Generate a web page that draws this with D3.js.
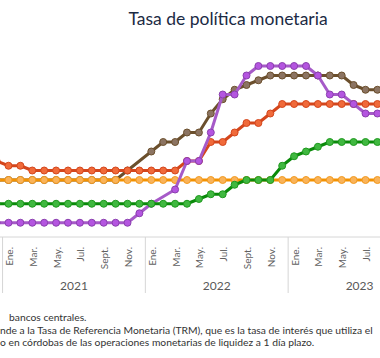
<!DOCTYPE html>
<html>
<head>
<meta charset="utf-8">
<script src="https://cdnjs.cloudflare.com/ajax/libs/d3/7.8.5/d3.min.js"></script>
<style>
  body { margin:0; background:#fff; }
  svg { display:block; font-family: Lato, "Open Sans", sans-serif; }
</style>
</head>
<body>
<svg id="chart" width="380" height="358"></svg>
<script>
// months: dic 2020 .. ago 2023
var months = d3.timeMonth.range(new Date(2020, 11, 1), new Date(2023, 8, 1));
var monthNames = ["Ene.","Feb.","Mar.","Abr.","May.","Jun.","Jul.","Ago.","Sept.","Oct.","Nov.","Dic."];
var years = [2021, 2022, 2023];

// tasas (%), una por mes; null = sin marcador
var honduras  = [3,3,3,3,3,3,3,3,3,3,3,3,3, 3,3,3,3,3,3,3,3,3,3,3,3, 3,3,3,3,3,3,3,3];
var nicaragua = [4,3.75,3.75,3.5,3.5,3.5,3.5,3.5,3.5,3.5,3.5,3.5,3.5, 3.5,3.5,3.5,4,4,5,5,5.5,6,6,6.5,7, 7,7,7,7,7,7,7,7];
var guatemala = [1.75,1.75,1.75,1.75,1.75,1.75,1.75,1.75,1.75,1.75,1.75,1.75,1.75, 1.75,1.75,1.75,1.75,2,2.25,2.25,2.75,3,3,3,3.75, 4.25,4.5,4.75,5,5,5,5,5];
var costaRica = [0.75,0.75,0.75,0.75,0.75,0.75,0.75,0.75,0.75,0.75,0.75,0.75,1.25, 1.75,null,2.5,4,4,5.5,7.5,7.5,8.5,9,9,9, 9,9,8.5,7.5,7.5,7,6.5,6.5];
var repDom    = [3,3,3,3,3,3,3,3,3,3,3,3.5,null, 4.5,5,5,5.5,5.5,6.5,7.25,7.75,8,8.25,8.5,8.5, 8.5,8.5,8.5,8.5,8.5,8,7.75,7.75];

// drawing order, bottom to top
var series = [
    {name:"Rep. Dominicana", values:repDom,    line:"#6b4f2c", fill:"#8c7462", stroke:"#6b4f2c"},
    {name:"Nicaragua",       values:nicaragua, line:"#d4461c", fill:"#f06a3a", stroke:"#d4461c"},
    {name:"Honduras",        values:honduras,  line:"#f39200", fill:"#f9b35a", stroke:"#f39a1e"},
    {name:"Costa Rica",      values:costaRica, line:"#a65ac8", fill:"#b455e0", stroke:"#8a3fae"},
    {name:"Guatemala",       values:guatemala, line:"#0a8a0a", fill:"#40b840", stroke:"#1f9a1f"}
];

var AXIS_Y=237;
var svg = d3.select("#chart");

var x = d3.scalePoint()
    .domain(months.map(function(d){ return +d; }))
    .range([-3.4, 377.4]);

var y = d3.scaleLinear()
    .domain([0, 9])
    .range([AXIS_Y, 66]);

svg.append("text")
    .attr("x", 228)
    .attr("y", 25)
    .attr("text-anchor", "middle")
    .attr("font-size", "17.5px")
    .attr("fill", "#1b2a44")
    .text("Tasa de política monetaria");

// axis
svg.append("line")
    .attr("x1", 0).attr("x2", 380)
    .attr("y1", AXIS_Y).attr("y2", AXIS_Y)
    .attr("stroke", "#d6d6d6");

var jan = months.filter(function(d){ return d.getMonth()==0; });
svg.selectAll("line.sep")
    .data(jan)
    .enter().append("line")
    .attr("class", "sep")
    .attr("x1", function(d){ return x(+d) - x.step()/2; })
    .attr("x2", function(d){ return x(+d) - x.step()/2; })
    .attr("y1", AXIS_Y).attr("y2", 293)
    .attr("stroke", "#d6d6d6");

svg.selectAll("text.month")
    .data(months.filter(function(d){ return d.getMonth()%2==0; }))
    .enter().append("text")
    .attr("class", "month")
    .attr("transform", function(d){ return "translate(" + (x(+d)+1) + "," + (AXIS_Y+10) + ") rotate(-90)"; })
    .attr("dy", "0.35em")
    .attr("text-anchor", "end")
    .attr("font-size", "10px")
    .attr("fill", "#606060")
    .text(function(d){ return monthNames[d.getMonth()]; });

svg.selectAll("text.year")
    .data(years)
    .enter().append("text")
    .attr("class", "year")
    .attr("x", function(d){
	var a = x(+new Date(d,0,1)) - x.step()/2;
	return a + 6*x.step();
    })
    .attr("y", 290)
    .attr("text-anchor", "middle")
    .attr("font-size", "12px")
    .attr("fill", "#595959")
    .text(function(d){ return d; });

// lines + markers
var line = d3.line()
    .x(function(d){ return x(+d.date); })
    .y(function(d){ return y(d.v); });

series.forEach(function(s) {
    var pts = [];
    s.values.forEach(function(v,i){ if (v!==null) pts.push({date:months[i], v:v}); });
    var g = svg.append("g");
    g.append("path")
	.datum(pts)
	.attr("d", line)
	.attr("fill", "none")
	.attr("stroke", s.line)
	.attr("stroke-width", 3)
	.attr("stroke-linejoin", "round");
    g.selectAll("circle")
	.data(pts)
	.enter().append("circle")
	.attr("cx", function(d){ return x(+d.date); })
	.attr("cy", function(d){ return y(d.v); })
	.attr("r", 3.5)
	.attr("fill", s.fill)
	.attr("stroke", s.stroke)
	.attr("stroke-width", 1);
});

// notas (recortadas a la izquierda)
var notes = [
    {x:9,  y:321, t:"bancos centrales."},
    {x:0,  y:334, t:"nde a la Tasa de Referencia Monetaria (TRM), que es la tasa de interés que utiliza el"},
    {x:0,  y:346, t:"o en córdobas de las operaciones monetarias de liquidez a 1 día plazo."}
];
svg.selectAll("text.note")
    .data(notes)
    .enter().append("text")
    .attr("class", "note")
    .attr("x", function(d){ return d.x; })
    .attr("y", function(d){ return d.y; })
    .attr("font-size", "10.3px")
    .attr("fill", "#333")
    .text(function(d){ return d.t; });
</script>
</body>
</html>
